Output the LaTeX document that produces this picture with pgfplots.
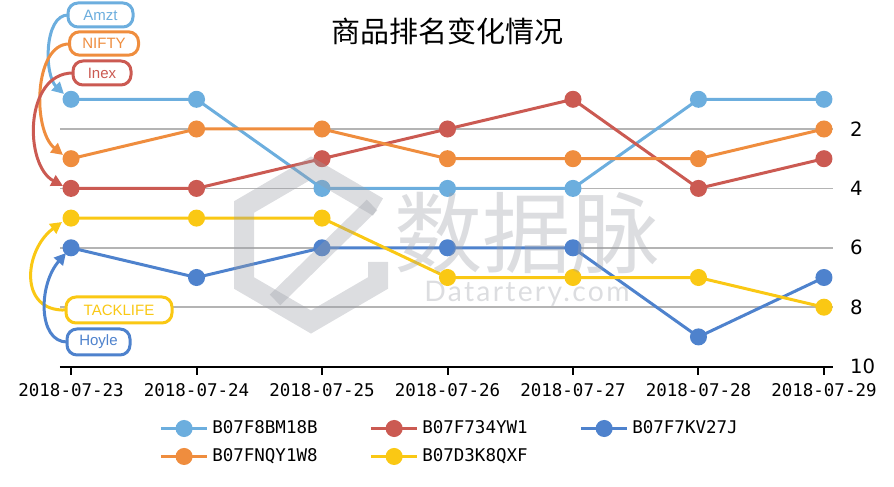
\documentclass[border=0pt]{standalone}
\usepackage{pgfplots}
\pgfplotsset{compat=1.18}
\usepackage{fontspec}
\setmainfont{Liberation Sans}
\newfontfamily\cjk{Noto Sans CJK SC}
\newfontfamily\monof{DejaVu Sans Mono}
\newfontfamily\dejavu{DejaVu Sans}
\newfontfamily\wmfont{Lato}[LetterSpace=8]
\usetikzlibrary{arrows.meta}
\definecolor{c1}{RGB}{108,174,222}
\definecolor{c2}{RGB}{239,141,62}
\definecolor{c3}{RGB}{203,90,82}
\definecolor{c4}{RGB}{250,200,20}
\definecolor{c5}{RGB}{78,130,205}
\definecolor{gridc}{RGB}{180,180,180}
\definecolor{wm}{RGB}{155,158,166}
\begin{document}
\begin{tikzpicture}
\begin{axis}[
  scale only axis, width=463.8pt, height=178.2pt,
  xmin=-0.088, xmax=6.072, ymin=0, ymax=10, y dir=reverse,
  axis x line*=bottom, axis y line*=right,
  y axis line style={draw=none},
  x axis line style={line width=1.2pt, black, -},
  xtick={0,...,6},
  xticklabels={2018-07-23,2018-07-24,2018-07-25,2018-07-26,2018-07-27,2018-07-28,2018-07-29},
  x tick style={black, line width=1.2pt},
  tick align=outside, major tick length=4.8pt,
  ytick={2,4,6,8,10}, y tick style={draw=none},
  ymajorgrids, grid style={color=gridc, line width=0.9pt},
  /pgf/number format/assume math mode=true,
  xticklabel style={font=\monof\fontsize{10.5}{12}\selectfont, text=black, yshift=-1.8pt},
  yticklabel style={font=\dejavu\fontsize{11.8}{14}\selectfont, anchor=west, text=black, xshift=2pt},
  clip=false,
  legend columns=3,
  legend cell align=left,
  legend style={at={(axis description cs:0.128,-0.17)}, anchor=north west, draw=none, fill=none,
    font=\monof\fontsize{10.5}{12}\selectfont, inner sep=0pt, row sep=3.5pt,
    /tikz/every even column/.append style={column sep=29pt}},
  legend image code/.code={\draw[mark repeat=2,mark phase=2] plot coordinates {(0pt,0pt) (14pt,0pt) (28pt,0pt)};},
  every axis plot/.append style={line width=1.8pt, mark=*, mark size=4.2pt},
]
\addplot[color=c1] coordinates {(0,1)(1,1)(2,4)(3,4)(4,4)(5,1)(6,1)};
\addlegendentry{B07F8BM18B}
\addplot[color=c3] coordinates {(0,4)(1,4)(2,3)(3,2)(4,1)(5,4)(6,3)};
\addlegendentry{B07F734YW1}
\addplot[color=c5] coordinates {(0,6)(1,7)(2,6)(3,6)(4,6)(5,9)(6,7)};
\addlegendentry{B07F7KV27J}
\addplot[color=c2] coordinates {(0,3)(1,2)(2,2)(3,3)(4,3)(5,3)(6,2)};
\addlegendentry{B07FNQY1W8}
\addplot[color=c4] coordinates {(0,5)(1,5)(2,5)(3,7)(4,7)(5,7)(6,8)};
\addlegendentry{B07D3K8QXF}
\coordinate (O) at (axis cs:-0.088,0);
\end{axis}
\begin{scope}[shift={(O)}]
\begin{scope}[x=0.6pt,y=-0.6pt,shift={(-60,-69.6)}]
% title
\node[font=\cjk\fontsize{17.4}{20}\selectfont] at (447,31) {商品排名变化情况};
% watermark
\begin{scope}[opacity=0.35]
\draw[wm, line width=12pt, line join=miter] (378,207) -- (311,168) -- (244,207) -- (244,283) -- (311,322) -- (378,283) -- (378,262);
\draw[wm, line width=9pt] (372,205) -- (275,300);
\node[text=wm, font=\cjk\fontsize{53}{60}\selectfont] at (527,233) {数据脉};
\node[text=wm, font=\wmfont\fontsize{17}{20}\selectfont] at (527,294) {Datartery.com};
\end{scope}
% arrows
\begin{scope}[line width=1.8pt, -{Triangle[length=7pt,width=7pt]}]
\draw[c1] (68,15) .. controls (44,15) and (44,75) .. (64,94);
\draw[c2] (69,44) .. controls (34,44) and (32,130) .. (63,155);
\draw[c3] (73,73) .. controls (24,73) and (24,165) .. (63,186);
\draw[c4] (66,310) .. controls (18,312) and (24,250) .. (62,222);
\draw[c5] (67,342) .. controls (38,342) and (38,285) .. (66,253);
\end{scope}
% label boxes
\begin{scope}[every node/.style={fill=white, line width=1.8pt, rounded corners=6pt, inner sep=0pt, font=\fontsize{9}{10}\selectfont}]
\node[draw=c1, text=c1, minimum width=39pt, minimum height=14.4pt] at (100.5,15) {Amzt};
\node[draw=c2, text=c2, minimum width=41.4pt, minimum height=14pt] at (104,43.5) {NIFTY};
\node[draw=c3, text=c3, minimum width=34.8pt, minimum height=14.4pt] at (102,73) {Inex};
\node[draw=c4, text=c4, minimum width=63.6pt, minimum height=15.6pt] at (119,310) {TACKLIFE};
\node[draw=c5, text=c5, minimum width=37.8pt, minimum height=15.6pt] at (98.5,342) {Hoyle};
\end{scope}
\pgfresetboundingbox
\useasboundingbox (0,0) rectangle (894,487);
\end{scope}
\end{scope}
\end{tikzpicture}
\end{document}
